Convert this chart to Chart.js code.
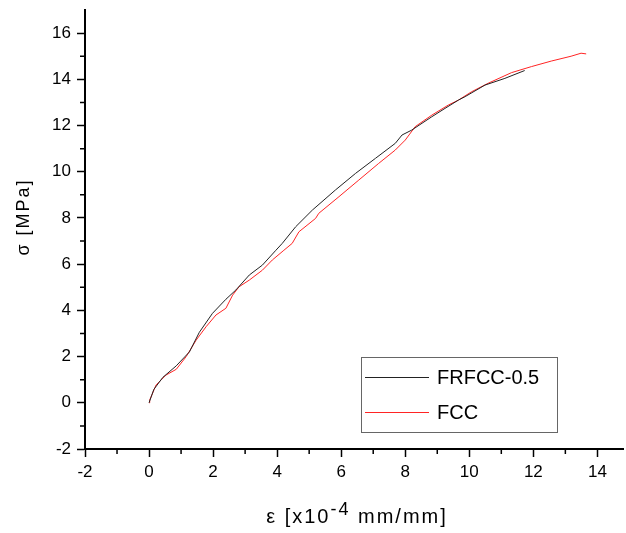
<!DOCTYPE html>
<html>
<head>
<meta charset="utf-8">
<script src="https://cdn.jsdelivr.net/npm/chart.js@4/dist/chart.umd.min.js"></script>
<style>
    html, body { margin: 0; padding: 0; background: #fff; }
    #wrap { width: 626px; height: 533px; }
</style>
</head>
<body>
<div id="wrap"><canvas id="stressChart" width="626" height="533"></canvas></div>
<script>
// strain [x10^-4 mm/mm] and stress [MPa]
const frfccStrain = [0, 0.15, 0.43, 0.85, 1.26, 1.57, 1.98, 2.4, 2.71, 3.13, 3.54, 3.96, 4.16, 4.58, 5.1, 5.82, 6.45, 7.07, 7.69, 7.9, 8.2, 8.83, 9.24, 9.66, 9.87, 10.49, 11.11, 11.73];
const frfccStress = [0, 0.58, 1.1, 1.6, 2.2, 3.05, 3.87, 4.48, 4.88, 5.53, 5.96, 6.6, 6.9, 7.62, 8.34, 9.21, 9.93, 10.58, 11.23, 11.59, 11.8, 12.38, 12.74, 13.1, 13.25, 13.75, 14.04, 14.38];

const fccStrain = [0, 0.02, 0.22, 0.53, 0.85, 1.16, 1.47, 1.78, 2.09, 2.4, 2.61, 2.81, 3.13, 3.54, 3.85, 4.21, 4.47, 4.68, 5.2, 5.3, 5.93, 6.55, 7.17, 7.69, 8.0, 8.31, 8.83, 9.35, 9.66, 10.07, 10.59, 11.32, 11.94, 12.56, 13.18, 13.49, 13.65];
const fccStress = [0, 0.12, 0.77, 1.2, 1.45, 2.0, 2.71, 3.29, 3.8, 4.09, 4.66, 5.02, 5.31, 5.74, 6.18, 6.6, 6.9, 7.4, 7.98, 8.2, 8.92, 9.64, 10.36, 10.94, 11.37, 11.95, 12.45, 12.89, 13.1, 13.46, 13.83, 14.29, 14.55, 14.79, 15.0, 15.13, 15.1];

const seriesNames = ['FRFCC-0.5', 'FCC'];
const seriesColors = ['#222222', '#ff2424'];

const xTicks = [-2, 0, 2, 4, 6, 8, 10, 12, 14];
const xMinorTicks = [-1, 1, 3, 5, 7, 9, 11, 13];
const yTicks = [-2, 0, 2, 4, 6, 8, 10, 12, 14, 16];
const yMinorTicks = [-1, 1, 3, 5, 7, 9, 11, 13, 15];

const FONT = '"Liberation Sans", Arial, sans-serif';

function toPoints(xs, ys) {
    return xs.map((x, i) => ({ x: x, y: ys[i] }));
}

// minor ticks, axis titles (with superscript) and the boxed legend
const decorPlugin = {
    id: 'decor',
    afterDraw(chart) {
        const ctx = chart.ctx;
        const xs = chart.scales.x;
        const ys = chart.scales.y;
        const area = chart.chartArea;

        ctx.save();
        ctx.strokeStyle = '#000';
        ctx.lineWidth = 1.5;
        ctx.beginPath();
        xMinorTicks.forEach(v => {
            const px = xs.getPixelForValue(v);
            ctx.moveTo(px, area.bottom);
            ctx.lineTo(px, area.bottom + 5);
        });
        yMinorTicks.forEach(v => {
            const py = ys.getPixelForValue(v);
            ctx.moveTo(area.left, py);
            ctx.lineTo(area.left - 5, py);
        });
        ctx.stroke();

        // y title
        ctx.fillStyle = '#000';
        ctx.font = '18px ' + FONT;
        ctx.letterSpacing = '2px';
        ctx.textAlign = 'center';
        ctx.textBaseline = 'middle';
        ctx.translate(24, 217);
        ctx.rotate(-Math.PI / 2);
        ctx.fillText('σ [MPa]', 0, 0);
        ctx.restore();

        // x title
        ctx.save();
        ctx.fillStyle = '#000';
        ctx.letterSpacing = '2px';
        ctx.textBaseline = 'alphabetic';
        ctx.textAlign = 'left';
        const big = '20px ' + FONT;
        const small = '18px ' + FONT;
        const part1 = 'ε [x10';
        const sup = '-4';
        const part2 = ' mm/mm]';
        ctx.font = big;
        const w1 = ctx.measureText(part1).width;
        const w3 = ctx.measureText(part2).width;
        ctx.font = small;
        const w2 = ctx.measureText(sup).width;
        const total = w1 + w2 + w3;
        let tx = 357 - total / 2;
        const base = 523;
        ctx.font = big;
        ctx.fillText(part1, tx, base);
        tx += w1;
        ctx.font = small;
        ctx.fillText(sup, tx, base - 8);
        tx += w2;
        ctx.font = big;
        ctx.fillText(part2, tx, base);
        ctx.restore();

        // legend box
        ctx.save();
        ctx.fillStyle = '#fff';
        ctx.fillRect(361, 357, 196, 75);
        ctx.strokeStyle = '#666';
        ctx.lineWidth = 1;
        ctx.strokeRect(361.5, 357.5, 196, 75);
        const rows = [377, 412];
        seriesNames.forEach((name, i) => {
            ctx.strokeStyle = seriesColors[i];
            ctx.lineWidth = 1;
            ctx.beginPath();
            ctx.moveTo(365, rows[i] + 0.5);
            ctx.lineTo(429, rows[i] + 0.5);
            ctx.stroke();
            ctx.fillStyle = '#000';
            ctx.font = '20px ' + FONT;
            ctx.textAlign = 'left';
            ctx.textBaseline = 'middle';
            ctx.fillText(name, 437, rows[i] + 1);
        });
        ctx.restore();
    }
};

const ctx = document.getElementById('stressChart').getContext('2d');
const stressChart = new Chart(ctx, {
    type: 'line',
    data: {
        datasets: [
            {
                label: seriesNames[0],
                data: toPoints(frfccStrain, frfccStress),
                borderColor: seriesColors[0],
                borderWidth: 1,
                pointRadius: 0,
                tension: 0
            },
            {
                label: seriesNames[1],
                data: toPoints(fccStrain, fccStress),
                borderColor: seriesColors[1],
                borderWidth: 1,
                pointRadius: 0,
                tension: 0
            }
        ]
    },
    options: {
        responsive: false,
        devicePixelRatio: 1,
        animation: false,
        layout: {
            padding: { top: 10, right: 3, left: 0, bottom: 0 }
        },
        scales: {
            x: {
                type: 'linear',
                min: -2,
                max: 14.8,
                afterBuildTicks: scale => {
                    scale.ticks = xTicks.map(v => ({ value: v }));
                },
                afterFit: scale => {
                    scale.height = 84;
                    scale.paddingLeft = 0;
                    scale.paddingRight = 0;
                },
                grid: {
                    drawOnChartArea: false,
                    drawTicks: true,
                    tickLength: 8,
                    tickColor: '#000',
                    tickWidth: 1.5
                },
                border: { color: '#000', width: 2 },
                ticks: {
                    color: '#000',
                    font: { family: FONT, size: 17 },
                    padding: 5,
                    maxRotation: 0
                }
            },
            y: {
                type: 'linear',
                min: -2,
                max: 17,
                afterBuildTicks: scale => {
                    scale.ticks = yTicks.map(v => ({ value: v }));
                },
                afterFit: scale => {
                    scale.width = 85;
                    scale.paddingTop = 0;
                    scale.paddingBottom = 0;
                },
                grid: {
                    drawOnChartArea: false,
                    drawTicks: true,
                    tickLength: 8,
                    tickColor: '#000',
                    tickWidth: 1.5
                },
                border: { color: '#000', width: 2 },
                ticks: {
                    color: '#000',
                    font: { family: FONT, size: 17 },
                    padding: 6
                }
            }
        },
        plugins: {
            legend: { display: false },
            tooltip: { enabled: false }
        }
    },
    plugins: [decorPlugin]
});
</script>
</body>
</html>
